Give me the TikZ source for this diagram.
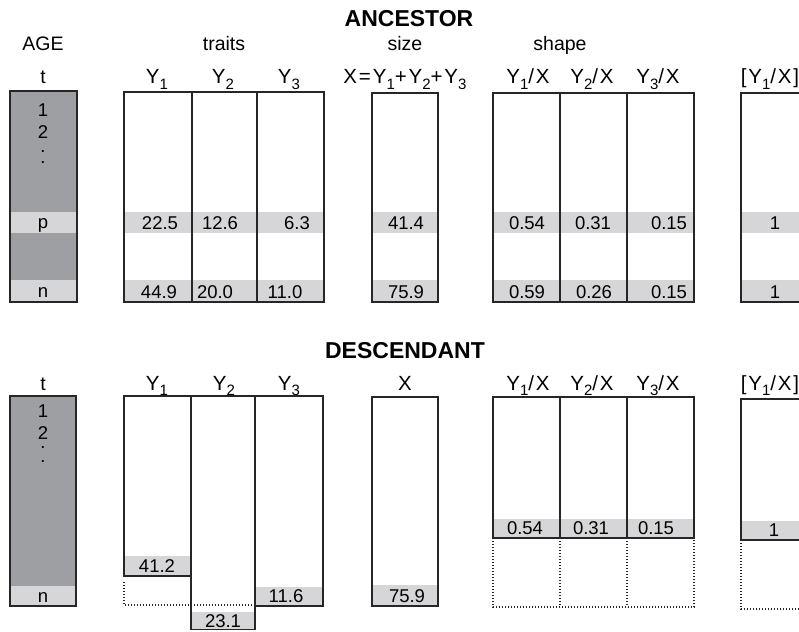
\documentclass[tikz,border=0pt]{standalone}
\usepackage{fontspec}
\setmainfont{Liberation Sans}
\newfontfamily\hdrfont[LetterSpace=9]{Liberation Sans}
\newcommand\sbs[1]{\raisebox{-0.27em}{\fontsize{15}{15}\selectfont #1}}
\definecolor{dk}{RGB}{158,159,162}
\definecolor{lt}{RGB}{214,214,216}
\definecolor{ln}{RGB}{38,38,38}
\begin{document}
\begin{tikzpicture}[x=1pt,y=-1pt,
  txt/.style={font=\fontsize{18.5}{20}\selectfont, anchor=base, inner sep=0pt, text=black},
  agel/.style={font=\fontsize{18.5}{22}\selectfont, anchor=north, align=center, inner sep=0pt},
  grp/.style={font=\fontsize{19.5}{20}\selectfont, anchor=base, inner sep=0pt},
  hdr/.style={font=\hdrfont\fontsize{20.5}{22}\selectfont, anchor=base, inner sep=0pt},
  ttl/.style={font=\fontsize{23}{24}\bfseries\selectfont, anchor=base, inner sep=0pt},
  box/.style={draw=ln, line width=1.5pt},
  dotl/.style={draw=ln, line width=1.4pt, dash pattern=on 1.4pt off 1.6pt}]
\useasboundingbox (0,0) rectangle (799,631);
% ================= ANCESTOR =================
\node[ttl] (tA) at (409,27) {ANCESTOR};
\node[grp] (gAge) at (43,51) {AGE};
\node[grp] (gTr) at (224,51) {traits};
\node[grp] (gSz) at (405,51) {size};
\node[grp] (gSh) at (560,51) {shape};
% age column
\fill[dk] (10,91) rectangle (77,302);
\fill[lt] (10,212) rectangle (77,233);
\fill[lt] (10,280) rectangle (77,302);
\draw[box] (10,91) rectangle (77,302);
% traits
\fill[lt] (124,212) rectangle (324,233);
\fill[lt] (124,280) rectangle (324,302);
\draw[box] (124,92) rectangle (324,302);
\draw[box] (192,92) -- (192,302);
\draw[box] (257,92) -- (257,302);
% size
\fill[lt] (372,212) rectangle (438,233);
\fill[lt] (372,280) rectangle (438,302);
\draw[box] (372,93) rectangle (438,302);
% shape
\fill[lt] (493,212) rectangle (694,233);
\fill[lt] (493,280) rectangle (694,302);
\draw[box] (493,93) rectangle (694,302);
\draw[box] (560,93) -- (560,302);
\draw[box] (627,93) -- (627,302);
% [Y1/X]
\fill[lt] (741,212) rectangle (808,233);
\fill[lt] (741,280) rectangle (808,302);
\draw[box] (741,93) rectangle (808,302);
% headers
\node[grp] (hAt) at (43,84) {t};
\node[hdr] (hAy1) at (157,84) {Y\sbs{1}};
\node[hdr] (hAy2) at (223,84) {Y\sbs{2}};
\node[hdr] (hAy3) at (289,84) {Y\sbs{3}};
\node[hdr] (hAx) at (405,84) {X=Y\sbs{1}+Y\sbs{2}+Y\sbs{3}};
\node[hdr] (hAs1) at (528,84) {Y\sbs{1}/X};
\node[hdr] (hAs2) at (592,84) {Y\sbs{2}/X};
\node[hdr] (hAs3) at (658,84) {Y\sbs{3}/X};
\node[hdr] (hAr) at (770,84) {[Y\sbs{1}/X]};
% age labels
\node[agel] (aAlist) at (43,103.8) {1\\2\\[-8pt].\\[-11pt].};
\node[txt] (aAp) at (43,228) {p};
\node[txt] (aAn) at (43,297) {n};
% values row p
\node[txt] (vA1) at (160,229) {22.5};
\node[txt] (vA2) at (220,229) {12.6};
\node[txt] (vA3) at (297,229) {6.3};
\node[txt] (vA4) at (406,229) {41.4};
\node[txt] (vA5) at (527,229) {0.54};
\node[txt] (vA6) at (593,229) {0.31};
\node[txt] (vA7) at (669,229) {0.15};
\node[txt] (vA8) at (775,229) {1};
% values row n
\node[txt] (wA1) at (159,298) {44.9};
\node[txt] (wA2) at (215,298) {20.0};
\node[txt] (wA3) at (285,298) {11.0};
\node[txt] (wA4) at (406,298) {75.9};
\node[txt] (wA5) at (527,298) {0.59};
\node[txt] (wA6) at (594,298) {0.26};
\node[txt] (wA7) at (669,298) {0.15};
\node[txt] (wA8) at (775,298) {1};
% ================= DESCENDANT =================
\node[ttl] (tD) at (405,358) {DESCENDANT};
\node[grp] (hDt) at (43,390) {t};
\node[hdr] (hDy1) at (157,390) {Y\sbs{1}};
\node[hdr] (hDy2) at (224,390) {Y\sbs{2}};
\node[hdr] (hDy3) at (289,390) {Y\sbs{3}};
\node[hdr] (hDx) at (405,390) {X};
\node[hdr] (hDs1) at (528,390) {Y\sbs{1}/X};
\node[hdr] (hDs2) at (592,390) {Y\sbs{2}/X};
\node[hdr] (hDs3) at (658,390) {Y\sbs{3}/X};
\node[hdr] (hDr) at (770,390) {[Y\sbs{1}/X]};
% age column
\fill[dk] (10,396) rectangle (76,606);
\fill[lt] (10,586) rectangle (76,606);
\draw[box] (10,396) rectangle (76,606);
\node[agel] (aDlist) at (43,404.8) {1\\2\\[-13pt].\\[-8pt].};
\node[txt] (aDn) at (43,602) {n};
% traits
\fill[lt] (124,556) rectangle (191,576);
\fill[lt] (191,612) rectangle (255,629.5);
\fill[lt] (255,587) rectangle (323,606);
\draw[dotl] (124,582) -- (124,605) -- (253,605);
\draw[box] (124,396) rectangle (191,576);
\draw[box] (191,396) rectangle (255,629.5);
\draw[box] (255,396) rectangle (323,606);
\node[txt] (vD1) at (157,572) {41.2};
\node[txt] (vD2) at (223,627) {23.1};
\node[txt] (vD3) at (286,602) {11.6};
% size
\fill[lt] (372,585) rectangle (438,606);
\draw[box] (372,397) rectangle (438,606);
\node[txt] (vD4) at (407,602) {75.9};
% shape
\fill[lt] (493,519) rectangle (694,538);
\draw[dotl] (493,538) -- (493,607) -- (694,607) -- (694,538);
\draw[dotl] (560,538) -- (560,607);
\draw[dotl] (627,538) -- (627,607);
\draw[box] (493,397) rectangle (694,538);
\draw[box] (560,397) -- (560,538);
\draw[box] (627,397) -- (627,538);
\node[txt] (vD5) at (525,534) {0.54};
\node[txt] (vD6) at (591,534) {0.31};
\node[txt] (vD7) at (656,534) {0.15};
% [Y1/X]
\fill[lt] (741,521) rectangle (808,540);
\draw[dotl] (741,540) -- (741,609) -- (808,609);
\draw[box] (741,399) rectangle (808,540);
\node[txt] (vD8) at (774,536) {1};
\end{tikzpicture}
\end{document}
